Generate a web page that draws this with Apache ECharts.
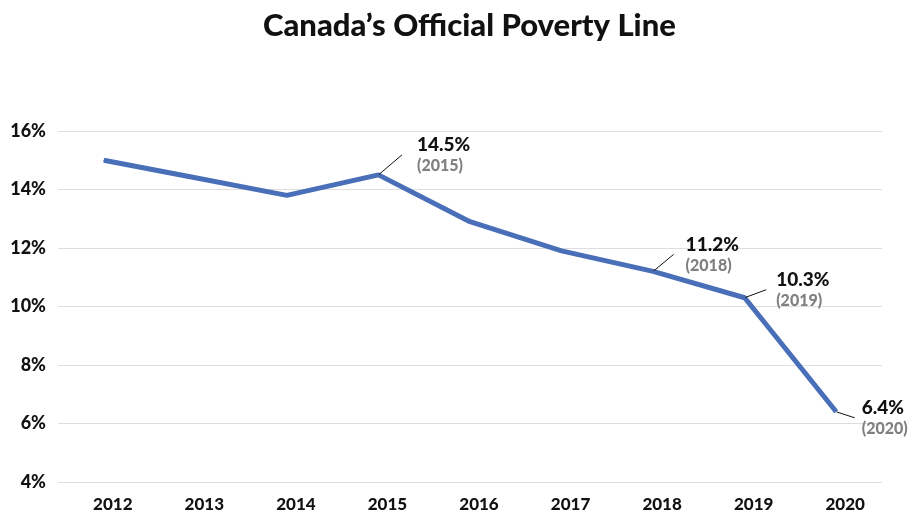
<!DOCTYPE html>
<html>
<head>
<meta charset="utf-8">
<script src="https://cdn.jsdelivr.net/npm/echarts@6/dist/echarts.min.js"></script>
<style>html,body{margin:0;padding:0;background:#fff}#c{width:915px;height:514px}</style>
</head>
<body>
<div id="c"></div>
<script>
var years = ['2012','2013','2014','2015','2016','2017','2018','2019','2020'];
var rates = [15.0, 14.4, 13.8, 14.5, 12.9, 11.9, 11.2, 10.3, 6.4];
var labelled = ['2015','2018','2019','2020'];
var yTicks = [4, 6, 8, 10, 12, 14, 16];

// label placement: [dx, dy, leftPadding]
var labelPlace = {3:[18,-20,15], 6:[15,-17,12], 7:[16,-8,10], 8:[13,6,7]};
var FONT = 'Lato';

var data = rates.map(function(v, i){
  var item = {value: v};
  if (labelled.indexOf(years[i]) >= 0) {
    item.label = {show: true, padding: [0, 0, 0, labelPlace[i][2]],
      backgroundColor: 'rgba(255,255,255,0)'};
    item.labelLine = {show: true};
  }
  return item;
});

var chart = echarts.init(document.getElementById('c'));
chart.setOption({
  animation: false,
  title: {
    text: "Canada’s Official Poverty Line",
    left: 258, top: 5,
    textStyle: {fontFamily: FONT, fontWeight: 900, fontSize: 31, color: '#111'}
  },
  grid: {left: 58, right: 33, top: 131, bottom: 32, containLabel: false},
  xAxis: {
    type: 'category', data: years, boundaryGap: true,
    axisLine: {show: false}, axisTick: {show: false},
    axisLabel: {fontFamily: FONT, fontWeight: 900, fontSize: 17, color: '#111', margin: 14,
      padding: [0, 0, 0, 18]}
  },
  yAxis: {
    type: 'value', min: yTicks[0], max: yTicks[yTicks.length-1], interval: 2,
    axisLine: {show: false}, axisTick: {show: false},
    splitLine: {lineStyle: {color: '#dedede', width: 1}},
    axisLabel: {fontFamily: FONT, fontWeight: 900, fontSize: 18, color: '#111', margin: 12,
      formatter: function(v){ return v + '%'; }}
  },
  series: [{
    type: 'line', data: data,
    symbol: 'circle', symbolSize: 1, showSymbol: true,
    itemStyle: {color: '#4a6fb9'},
    lineStyle: {color: '#4a6fb9', width: 5},
    label: {
      show: false, position: 'right', distance: 5,
      formatter: function(p){ return '{a|' + p.value.toFixed(1) + '%}\n{b|(' + p.name + ')}'; },
      rich: {
        a: {fontFamily: FONT, fontWeight: 900, fontSize: 19, color: '#111', lineHeight: 22},
        b: {fontFamily: FONT, fontWeight: 900, fontSize: 16, color: '#808080', lineHeight: 20}
      }
    },
    labelLine: {show: false, lineStyle: {color: '#111', width: 1}},
    labelLayout: function(p){
      var o = labelPlace[p.dataIndex];
      return o ? {dx: o[0], dy: o[1]} : {};
    },
    emphasis: {disabled: true}
  }]
});
</script>
</body>
</html>
